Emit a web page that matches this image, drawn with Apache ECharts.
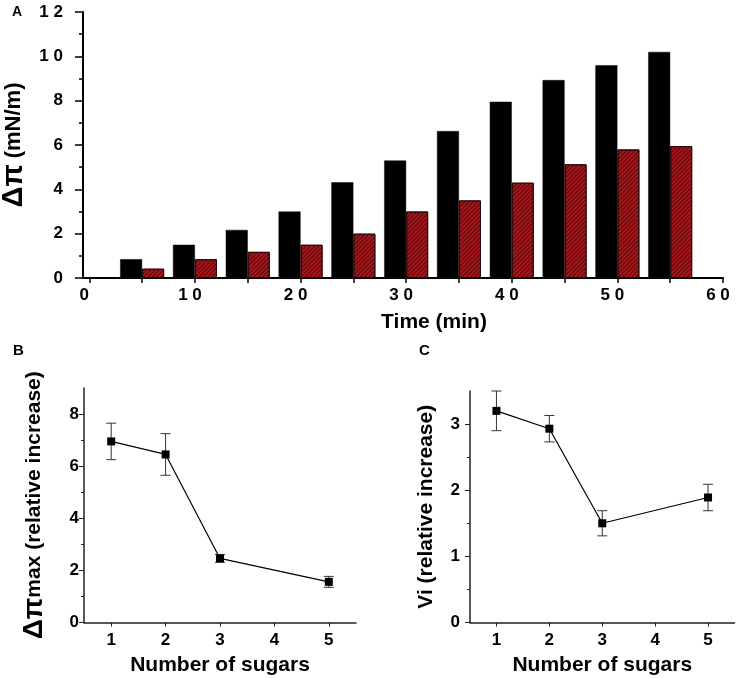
<!DOCTYPE html>
<html><head><meta charset="utf-8">
<script src="https://cdn.jsdelivr.net/npm/echarts@6/dist/echarts.min.js"></script>
<style>html,body{margin:0;padding:0;background:#fff}#c{width:740px;height:678px}</style>
</head><body><div id="c"></div>
<script>
// Panel A data
const timeMin = [5, 10, 15, 20, 25, 30, 35, 40, 45, 50, 55];
const barBlack = [0.85, 1.5, 2.17, 3.0, 4.32, 5.3, 6.63, 7.95, 8.93, 9.6, 10.2];
const barRed = [0.42, 0.85, 1.18, 1.5, 2.0, 3.0, 3.5, 4.3, 5.13, 5.8, 5.95];
const timeTicks = [0, 5, 10, 15, 20, 25, 30, 35, 40, 45, 50, 55, 60];
const timeLabels = [0, 10, 20, 30, 40, 50, 60];
// Panel B / C data
const sugars = [1, 2, 3, 5];
const dpiMax = [6.95, 6.45, 2.46, 1.56];
const dpiErr = [0.7, 0.8, 0.15, 0.21];
const vi = [3.2, 2.93, 1.5, 1.89];
const viErr = [0.3, 0.2, 0.19, 0.2];
const sugarTicks = [1, 2, 3, 4, 5];
const bMajor = [0, 2, 4, 6, 8];
const bMinor = [1, 3, 5, 7];
const cMajor = [0, 1, 2, 3];
const cMinor = [0.5, 1.5, 2.5];

const FONT = "'Liberation Sans', Arial, sans-serif";
const chart = echarts.init(document.getElementById('c'), null, {renderer: 'canvas'});

function pairs(xs, ys) { return xs.map((x, i) => [x, ys[i]]); }
function errData(xs, ys, es) { return xs.map((x, i) => [x, ys[i], es[i]]); }
function errRender(params, api) {
  const x = api.value(0), y = api.value(1), e = api.value(2);
  const top = api.coord([x, y + e]);
  const bot = api.coord([x, y - e]);
  const hw = 5;
  const st = {stroke: '#333', lineWidth: 1};
  return {type: 'group', children: [
    {type: 'line', shape: {x1: top[0], y1: top[1], x2: bot[0], y2: bot[1]}, style: st},
    {type: 'line', shape: {x1: top[0] - hw, y1: top[1], x2: top[0] + hw, y2: top[1]}, style: st},
    {type: 'line', shape: {x1: bot[0] - hw, y1: bot[1], x2: bot[0] + hw, y2: bot[1]}, style: st}
  ]};
}
const spaced = v => String(v).split('').join(' ');

const tickLabelStyle = {color: '#000', fontFamily: FONT, fontWeight: 'bold', fontSize: 17};
const nameStyle = {color: '#000', fontFamily: FONT, fontWeight: 'bold', fontSize: 21};

function lineAxisX(gridIndex) {
  return {
    type: 'value', gridIndex, min: 0.5, max: 5.5,
    name: 'Number of sugars', nameLocation: 'middle', nameGap: 32, nameTextStyle: nameStyle,
    axisLine: {lineStyle: {color: '#222', width: 1.5}},
    axisTick: {customValues: sugarTicks, length: 4, lineStyle: {color: '#222'}},
    axisLabel: Object.assign({customValues: sugarTicks, margin: 9}, tickLabelStyle),
    splitLine: {show: false}
  };
}
function lineAxisY(gridIndex, max, major, name, gap, margin) {
  return {
    type: 'value', gridIndex, min: 0, max: max,
    name: name, nameLocation: 'middle', nameGap: gap,
    nameTextStyle: Object.assign({}, nameStyle, {rich: {g: {fontSize: 28, fontWeight: 'bold', fontFamily: FONT, color: '#000'}}}),
    axisLine: {onZero: false, lineStyle: {color: '#222', width: 1.5}},
    axisTick: {customValues: major, length: 5, lineStyle: {color: '#222'}},
    axisLabel: Object.assign({customValues: major, margin: margin}, tickLabelStyle),
    splitLine: {show: false}
  };
}
function minorAxisY(gridIndex, max, minor) {
  return {
    type: 'value', gridIndex, min: 0, max: max, position: 'left',
    axisLine: {show: false, onZero: false},
    axisTick: {customValues: minor, length: 3, lineStyle: {color: '#222'}},
    axisLabel: {show: false}, splitLine: {show: false}
  };
}

const titleStyle = {fontFamily: FONT, fontWeight: 'bold', fontSize: 15, color: '#000'};
const option = {
  backgroundColor: '#fff',
  animation: false,
  title: [
    {text: 'A', left: 12, top: 5, padding: 0, textStyle: Object.assign({}, titleStyle, {fontSize: 14})},
    {text: 'B', left: 13, top: 343, padding: 0, textStyle: titleStyle},
    {text: 'C', left: 419, top: 343, padding: 0, textStyle: titleStyle}
  ],
  grid: [
    {left: 83, right: 17, top: 12, bottom: 400, outerBoundsMode: 'none', containLabel: false},
    {left: 84, right: 384, top: 388, bottom: 55.5, outerBoundsMode: 'none', containLabel: false},
    {left: 470, right: 5.5, top: 391, bottom: 55.5, outerBoundsMode: 'none', containLabel: false}
  ],
  xAxis: [
    {
      type: 'value', gridIndex: 0, min: -0.6, max: 60,
      name: 'Time (min)', nameLocation: 'middle', nameGap: 34,
      nameTextStyle: Object.assign({}, nameStyle, {padding: [0, 0, 0, 62]}),
      axisLine: {onZero: false, lineStyle: {color: '#000', width: 2}},
      axisTick: {customValues: timeTicks, length: 5, lineStyle: {color: '#000', width: 1.5}},
      axisLabel: Object.assign({customValues: timeLabels, margin: 9, formatter: spaced, padding: [0, 10, 0, 0]}, tickLabelStyle),
      splitLine: {show: false}
    },
    lineAxisX(1),
    lineAxisX(2)
  ],
  yAxis: [
    {
      type: 'value', gridIndex: 0, min: 0, max: 12, interval: 2,
      name: '{g|Δπ} (mN/m)', nameLocation: 'middle', nameGap: 52,
      nameTextStyle: Object.assign({}, nameStyle, {fontSize: 22, rich: {g: {fontSize: 29, fontWeight: 'bold', fontFamily: FONT, color: '#000'}}}),
      axisLine: {onZero: false, lineStyle: {color: '#000', width: 2}},
      axisTick: {length: 8, lineStyle: {color: '#000', width: 1.5}},
      minorTick: {show: true, splitNumber: 2, length: 4, lineStyle: {color: '#000', width: 1.5}},
      axisLabel: Object.assign({margin: 20, formatter: spaced}, tickLabelStyle),
      splitLine: {show: false}
    },
    lineAxisY(1, 9, bMajor, '{g|Δπ}max (relative increase)', 36, 5),
    lineAxisY(2, 3.5, cMajor, 'Vi (relative increase)', 33, 10),
    minorAxisY(1, 9, bMinor),
    minorAxisY(2, 3.5, cMinor)
  ],
  series: [
    {
      type: 'bar', xAxisIndex: 0, yAxisIndex: 0, data: pairs(timeMin, barBlack),
      barWidth: 22, barGap: '0%',
      itemStyle: {color: '#000', borderColor: '#111', borderWidth: 0.5}
    },
    {
      type: 'bar', xAxisIndex: 0, yAxisIndex: 0, data: pairs(timeMin, barRed),
      barWidth: 22, barGap: '0%',
      itemStyle: {
        color: '#a8161b', borderColor: '#2a0a0a', borderWidth: 1,
        decal: {symbol: 'rect', symbolSize: 1, dashArrayX: [1, 0], dashArrayY: [1, 2], rotation: -Math.PI / 4, color: 'rgba(40,0,0,0.65)'}
      }
    },
    {
      type: 'custom', xAxisIndex: 1, yAxisIndex: 1, data: errData(sugars, dpiMax, dpiErr),
      renderItem: errRender, z: 1
    },
    {
      type: 'line', xAxisIndex: 1, yAxisIndex: 1, data: pairs(sugars, dpiMax),
      symbol: 'rect', symbolSize: 8, itemStyle: {color: '#000'}, lineStyle: {color: '#000', width: 1.2}, z: 3
    },
    {
      type: 'custom', xAxisIndex: 2, yAxisIndex: 2, data: errData(sugars, vi, viErr),
      renderItem: errRender, z: 1
    },
    {
      type: 'line', xAxisIndex: 2, yAxisIndex: 2, data: pairs(sugars, vi),
      symbol: 'rect', symbolSize: 8, itemStyle: {color: '#000'}, lineStyle: {color: '#000', width: 1.2}, z: 3
    }
  ]
};
chart.setOption(option);
</script></body></html>
